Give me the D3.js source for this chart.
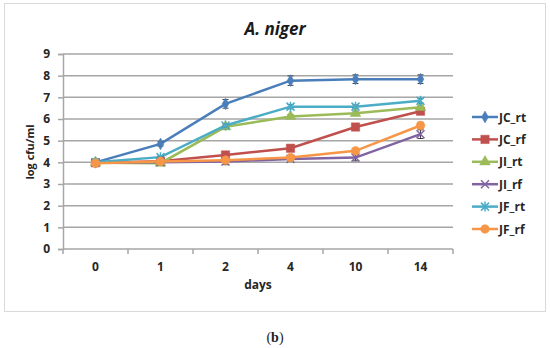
<!DOCTYPE html>
<html lang="en">
<head>
<meta charset="utf-8">
<title>A. niger</title>
<script src="https://cdn.jsdelivr.net/npm/d3@7"></script>
<style>
  body { margin: 0; background: #fff; }
  text { font-family: "Open Sans", "DejaVu Sans", sans-serif; }
</style>
</head>
<body>
<div id="chart"></div>
<script>
// data
var days = ["0", "1", "2", "4", "10", "14"];
var yTicks = [0, 1, 2, 3, 4, 5, 6, 7, 8, 9];
var seriesNames = ["JC_rt", "JC_rf", "JI_rt", "JI_rf", "JF_rt", "JF_rf"];
var jcRt = [4.0, 4.85, 6.7, 7.77, 7.84, 7.84];
var jcRf = [3.98, 4.05, 4.34, 4.65, 5.63, 6.36];
var jiRt = [3.98, 3.96, 5.64, 6.12, 6.26, 6.54];
var jiRf = [3.98, 4.0, 4.04, 4.15, 4.22, 5.3];
var jfRt = [4.0, 4.24, 5.7, 6.57, 6.57, 6.84];
var jfRf = [3.96, 4.04, 4.1, 4.22, 4.53, 5.7];
var jcRtErr = [0.05, 0.1, 0.2, 0.22, 0.2, 0.2];
var jcRfErr = [0.05, 0.05, 0.08, 0.08, 0.08, 0.1];
var jiRtErr = [0.05, 0.05, 0.08, 0.08, 0.1, 0.1];
var jiRfErr = [0.05, 0.05, 0.15, 0.1, 0.15, 0.2];
var jfRtErr = [0.05, 0.05, 0.08, 0.1, 0.08, 0.1];
var jfRfErr = [0.05, 0.05, 0.1, 0.08, 0.08, 0.15];

var colors = ["#4a7ebb", "#c0504d", "#9bbb59", "#8064a2", "#4bacc6", "#f79646"];
var symbols = ["diamond", "square", "triangle", "x", "star", "circle"];

var series = seriesNames.map(function(n, i) {
  return {
    name: n,
    values: [jcRt, jcRf, jiRt, jiRf, jfRt, jfRf][i],
    errs: [jcRtErr, jcRfErr, jiRtErr, jiRfErr, jfRtErr, jfRfErr][i],
    color: colors[i],
    symbol: symbols[i]
  };
});

var W = 550, H = 348;
var margin = {top: 54, right: 97, bottom: 99, left: 63},
    width = W - margin.left - margin.right,
    height = H - margin.top - margin.bottom;

var root = d3.select("#chart").append("svg")
  .attr("width", W)
  .attr("height", H);

// outer frame
root.append("rect")
  .attr("x", 4.5).attr("y", 3.5)
  .attr("width", 541).attr("height", 308)
  .attr("fill", "#fff")
  .attr("stroke", "#d9d9d9");

root.append("text")
  .attr("x", 275).attr("y", 35)
  .attr("text-anchor", "middle")
  .style("font-size", "17px")
  .style("font-weight", "bold")
  .style("font-style", "italic")
  .attr("fill", "#1a1a1a")
  .text("A. niger");

var svg = root.append("g")
  .attr("transform", "translate(" + margin.left + "," + margin.top + ")");

var x = d3.scaleBand().domain(days).range([0, width]);
var y = d3.scaleLinear().domain([0, 9]).range([height, 0]);

// gridlines
svg.append("g")
  .selectAll("line")
  .data(yTicks.slice(1))
  .enter().append("line")
    .attr("x1", 0).attr("x2", width)
    .attr("y1", function(d) { return y(d); })
    .attr("y2", function(d) { return y(d); })
    .attr("stroke", "#a6a6a6")
    .attr("stroke-width", 1.5);

// y axis
var yAxis = svg.append("g")
  .call(d3.axisLeft(y).tickValues(yTicks).tickSize(5).tickPadding(8));
yAxis.select(".domain").attr("stroke", "#a6a6a6").attr("stroke-width", 1.5);
yAxis.selectAll(".tick line").attr("stroke", "#a6a6a6").attr("stroke-width", 1.5);
yAxis.selectAll("text")
  .style("font-size", "12px").style("font-weight", "bold").attr("fill", "#262626");

// x axis, ticks between categories
var xg = svg.append("g").attr("transform", "translate(0," + height + ")");
xg.append("line")
  .attr("x1", 0).attr("x2", width)
  .attr("stroke", "#a6a6a6").attr("stroke-width", 1.5);
xg.selectAll(".sep")
  .data(days.concat(["end"]))
  .enter().append("line")
    .attr("x1", function(d, i) { return i * x.step(); })
    .attr("x2", function(d, i) { return i * x.step(); })
    .attr("y1", 0).attr("y2", 5)
    .attr("stroke", "#a6a6a6").attr("stroke-width", 1.5);
xg.selectAll(".lbl")
  .data(days)
  .enter().append("text")
    .attr("x", function(d) { return x(d) + x.bandwidth() / 2; })
    .attr("y", 22)
    .attr("text-anchor", "middle")
    .style("font-size", "12px").style("font-weight", "bold")
    .attr("fill", "#262626")
    .text(function(d) { return d; });

root.append("text")
  .attr("x", 258).attr("y", 289)
  .attr("text-anchor", "middle")
  .style("font-size", "12px").style("font-weight", "bold")
  .attr("fill", "#262626")
  .text("days");

root.append("text")
  .attr("transform", "translate(34,152) rotate(-90)")
  .attr("text-anchor", "middle")
  .style("font-size", "11px").style("font-weight", "bold")
  .attr("fill", "#262626")
  .text("log cfu/ml");

function symbolPath(type) {
  if (type === "x") {
    return "M-4,-4L4,4M-4,4L4,-4";
  }
  if (type === "star") {
    return "M-4,-4L4,4M-4,4L4,-4M0,-5L0,5";
  }
  var map = {diamond: d3.symbolDiamond, square: d3.symbolSquare, triangle: d3.symbolTriangle, circle: d3.symbolCircle};
  var size = {diamond: 40, square: 70, triangle: 50, circle: 60}[type];
  return d3.symbol().type(map[type]).size(size)();
}

var line = d3.line()
  .x(function(d, i) { return x(days[i]) + x.bandwidth() / 2; })
  .y(function(d) { return y(d); });

series.forEach(function(s) {
  var g = svg.append("g");
  g.append("path")
    .attr("d", line(s.values))
    .attr("fill", "none")
    .attr("stroke", s.color)
    .attr("stroke-width", 2.5);

  // error bars
  g.selectAll(".err")
    .data(s.values)
    .enter().append("path")
      .attr("d", function(d, i) {
        var cx = x(days[i]) + x.bandwidth() / 2;
        var y1 = y(d + s.errs[i]), y2 = y(d - s.errs[i]);
        return "M" + (cx - 3) + "," + y1 + "H" + (cx + 3) +
               "M" + cx + "," + y1 + "V" + y2 +
               "M" + (cx - 3) + "," + y2 + "H" + (cx + 3);
      })
      .attr("stroke", "#404040")
      .attr("stroke-width", 1)
      .attr("fill", "none");

  g.selectAll(".pt")
    .data(s.values)
    .enter().append("path")
      .attr("transform", function(d, i) {
        return "translate(" + (x(days[i]) + x.bandwidth() / 2) + "," + y(d) + ")";
      })
      .attr("d", symbolPath(s.symbol))
      .attr("fill", s.color)
      .attr("stroke", s.color)
      .attr("stroke-width", (s.symbol === "x" || s.symbol === "star") ? 1.5 : 0.5);
});

// legend
var legend = root.append("g").attr("transform", "translate(472,117)");
series.forEach(function(s, i) {
  var lg = legend.append("g").attr("transform", "translate(0," + (i * 22.4) + ")");
  lg.append("line")
    .attr("x1", 0).attr("x2", 26)
    .attr("stroke", s.color).attr("stroke-width", 2.5);
  lg.append("path")
    .attr("transform", "translate(13,0)")
    .attr("d", symbolPath(s.symbol))
    .attr("fill", s.color)
    .attr("stroke", s.color)
    .attr("stroke-width", (s.symbol === "x" || s.symbol === "star") ? 1.5 : 0.5);
  lg.append("text")
    .attr("x", 27).attr("y", 4.5)
    .style("font-size", "12px").style("font-weight", "bold")
    .attr("fill", "#262626")
    .text(s.name);
});

// panel caption
root.append("text")
  .attr("x", 275).attr("y", 342)
  .attr("text-anchor", "middle")
  .style("font-family", "'Liberation Serif', serif")
  .style("font-size", "14px")
  .attr("fill", "#222")
  .html("(<tspan font-weight='bold'>b</tspan>)");
</script>
</body>
</html>
